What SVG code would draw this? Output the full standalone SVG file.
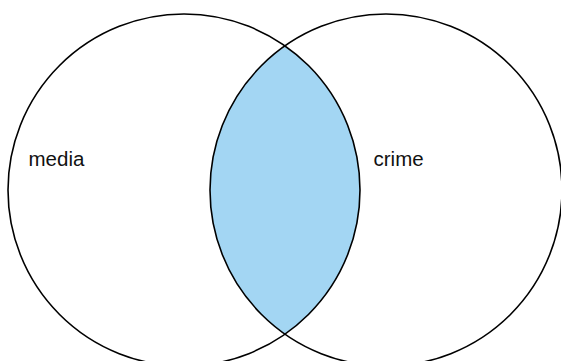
<svg xmlns="http://www.w3.org/2000/svg" width="561" height="361" viewBox="0 0 561 361">
<style>
.c{fill:none;stroke:#000;stroke-width:1.6}
.t{font-family:"Liberation Sans",Arial,sans-serif;font-size:20.5px;fill:#111}
</style>
<defs>
<clipPath id="cl"><circle cx="184" cy="190" r="176"/></clipPath>
</defs>
<rect width="561" height="361" fill="#fff"/>
<g id="overlap"><circle cx="386" cy="190" r="176" fill="#a3d6f3" clip-path="url(#cl)"/></g>
<g id="media"><circle class="c" cx="184" cy="190" r="176"/><text class="t" x="28.5" y="166">media</text></g>
<g id="crime"><circle class="c" cx="386" cy="190" r="176"/><text class="t" x="373.5" y="166">crime</text></g>
</svg>
